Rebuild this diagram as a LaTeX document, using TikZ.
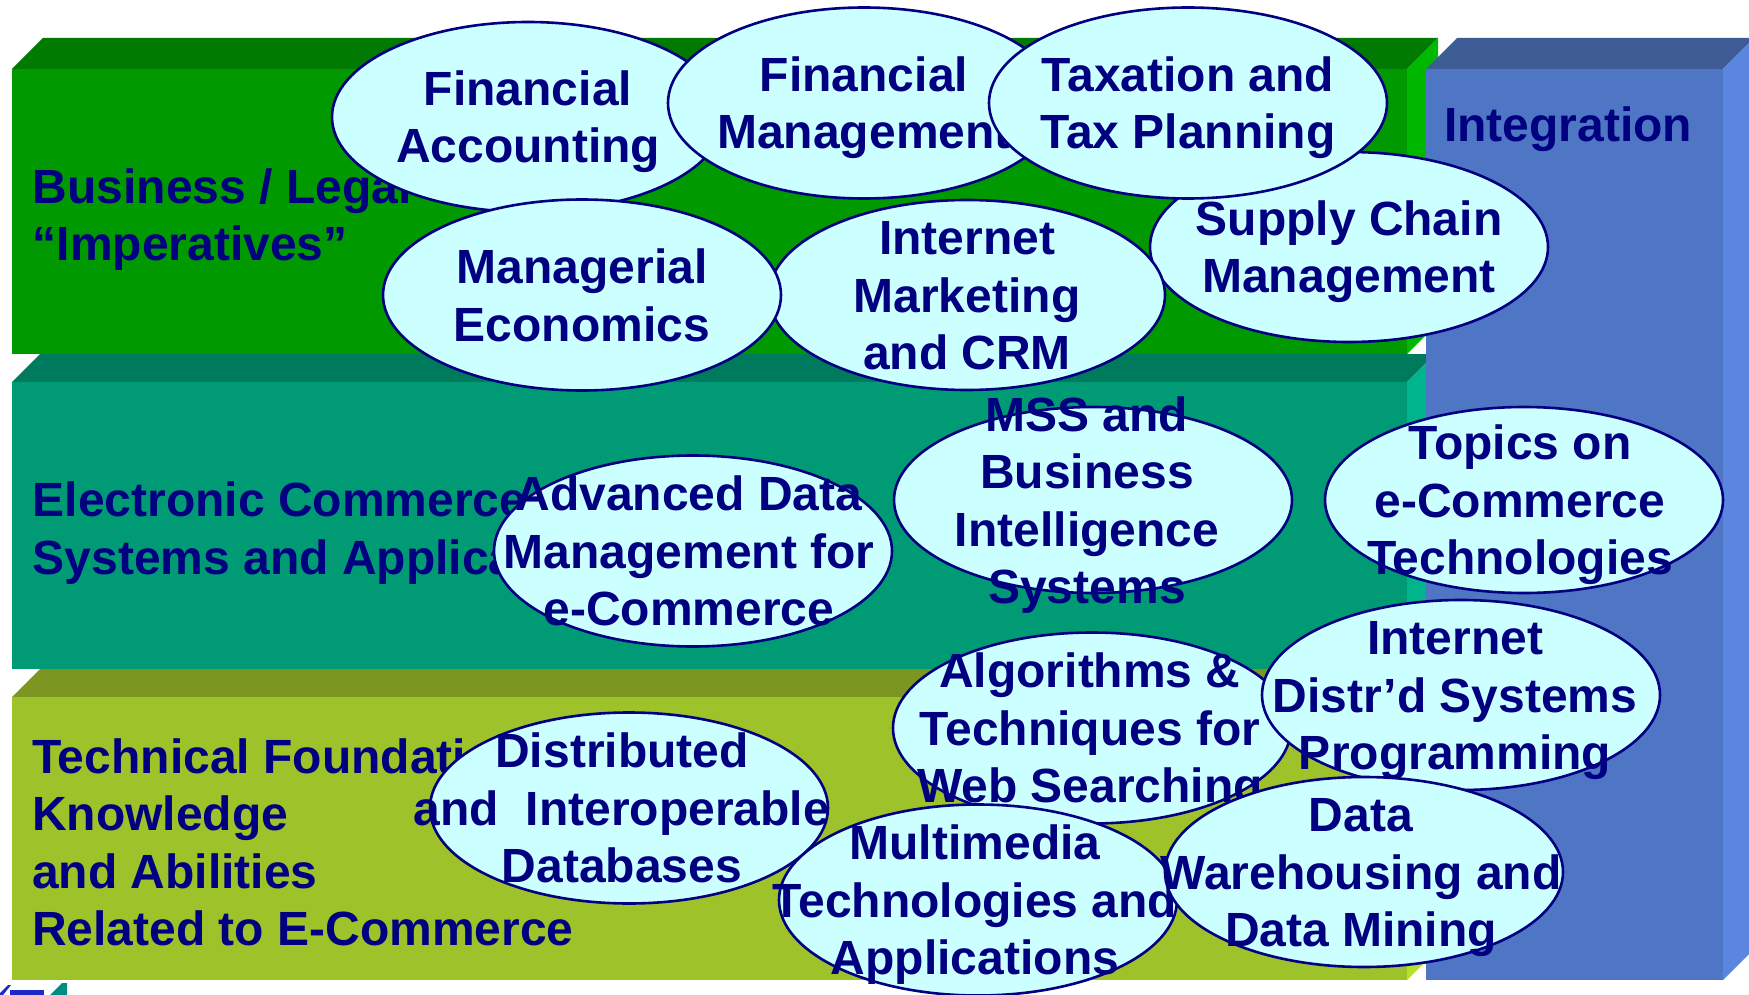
\documentclass[tikz,border=0pt]{standalone}
\usepackage{fontspec}
\setmainfont{Liberation Sans}
\usetikzlibrary{shapes.geometric,calc}
\definecolor{navytxt}{RGB}{0,0,128}
\definecolor{gfront}{RGB}{0,153,0}
\definecolor{gtop}{RGB}{0,122,0}
\definecolor{gside}{RGB}{0,184,0}
\definecolor{tfront}{RGB}{0,155,117}
\definecolor{ttop}{RGB}{0,122,92}
\definecolor{tside}{RGB}{0,181,140}
\definecolor{ofront}{RGB}{157,194,42}
\definecolor{otop}{RGB}{124,150,34}
\definecolor{oside}{RGB}{180,225,48}
\definecolor{bfront}{RGB}{79,118,196}
\definecolor{btop}{RGB}{62,92,148}
\definecolor{bside}{RGB}{91,134,224}
\definecolor{bubblefill}{RGB}{204,255,255}
\definecolor{logoblue}{RGB}{30,40,200}
\definecolor{logoteal}{RGB}{0,140,130}
\begin{document}
\begin{tikzpicture}[x=1pt,y=-1pt,
  bubble/.style={ellipse, draw=navytxt, line width=2.6pt, fill=bubblefill,
    minimum width=398pt, minimum height=191pt, inner sep=0pt},
  bigfont/.style={font=\fontsize{48}{57.5}\selectfont\bfseries, text=navytxt, inner sep=0pt},
  btxt/.style={bigfont, align=center, anchor=base},
  lbl/.style={bigfont, align=left, anchor=base west}]
\useasboundingbox (0,0) rectangle (1749,995);
\fill[white] (0,0) rectangle (1749,995);
% green bar
\fill[gtop] (12,69) -- (43,38) -- (1438,38) -- (1407,69) -- cycle;
\fill[gside] (1407,69) -- (1438,38) -- (1438,323) -- (1407,354) -- cycle;
\fill[gfront] (12,69) rectangle (1407,354);
% teal bar
\fill[ttop] (12,382) -- (40,354) -- (1435,354) -- (1407,382) -- cycle;
\fill[tside] (1407,382) -- (1435,354) -- (1435,641) -- (1407,669) -- cycle;
\fill[tfront] (12,382) rectangle (1407,669);
% olive bar
\fill[otop] (12,697) -- (40,669) -- (1435,669) -- (1407,697) -- cycle;
\fill[oside] (1407,697) -- (1435,669) -- (1435,952) -- (1407,980) -- cycle;
\fill[ofront] (12,697) rectangle (1407,980);
% integration bar
\fill[btop] (1426,69) -- (1457,38) -- (1754,38) -- (1723,69) -- cycle;
\fill[bside] (1723,69) -- (1754,38) -- (1754,949) -- (1723,980) -- cycle;
\fill[bfront] (1426,69) rectangle (1723,980);
% cut-off logo
\fill[logoblue] (0,993) -- (8,985) -- (11,985) -- (3,995) -- (0,995) -- cycle;
\fill[logoblue] (10,990) rectangle (44,995);
\fill[logoteal] (50,995) -- (62,983) -- (67,983) -- (67,995) -- cycle;
% layer labels (anchor = baseline of last line)
\node[lbl] (lbus) at (32.5,261) {Business / Legal\\“Imperatives”};
\node[lbl] (lec) at (32.5,574) {Electronic Commerce\\Systems and Applications};
\node[lbl] (ltech) at (32,945.5) {Technical Foundations\\Knowledge\\and Abilities\\Related to E-Commerce};
\node[lbl] (lint) at (1444,142) {Integration};
% bubbles
\node[bubble, minimum width=392pt, minimum height=190pt] (fa) at (528,117) {};
\node[btxt] (fa-t) at ($(fa)+(0,46)$) {Financial\\Accounting};
\node[bubble, minimum height=190pt] (scm) at (1349,247) {};
\node[btxt] (scm-t) at ($(scm)+(0,46)$) {Supply Chain\\Management};
\node[bubble, minimum width=392pt] (fm) at (864,103) {};
\node[btxt] (fm-t) at ($(fm)+(0,46)$) {Financial\\Management};
\node[bubble] (tax) at (1188,103) {};
\node[btxt] (tax-t) at ($(tax)+(0,46)$) {Taxation and\\Tax Planning};
\node[bubble, minimum width=396pt, minimum height=190pt] (im) at (967,295) {};
\node[btxt] (im-t) at ($(im)+(0,74.7)$) {Internet\\Marketing\\and CRM};
\node[bubble] (me) at (582,295) {};
\node[btxt] (me-t) at ($(me)+(0,46)$) {Managerial\\Economics};
\node[bubble] (ad) at (693,551) {};
\node[btxt] (ad-t) at ($(ad)+(-4,74.7)$) {Advanced Data\\Management for\\e-Commerce};
\node[bubble, minimum height=186pt] (mss) at (1093,500) {};
\node[btxt] (mss-t) at ($(mss)+(-6,103.5)$) {MSS and\\Business\\Intelligence\\Systems};
\node[bubble, minimum height=186pt] (topics) at (1524,500) {};
\node[btxt] (topics-t) at ($(topics)+(-4,74.7)$) {Topics on\\e-Commerce\\Technologies};
\node[bubble] (did) at (629,808) {};
\node[btxt] (did-t) at ($(did)+(-7,74.7)$) {Distributed\\and~~Interoperable\\Databases};
\node[bubble] (alg) at (1092,728) {};
\node[btxt] (alg-t) at ($(alg)+(-2,74.7)$) {Algorithms \&\\Techniques for\\Web Searching};
\node[bubble] (mm) at (978,900) {};
\node[btxt] (mm-t) at ($(mm)+(-3,74.7)$) {Multimedia\\Technologies and\\Applications};
\node[bubble, minimum height=190pt] (ids) at (1461,695) {};
\node[btxt] (ids-t) at ($(ids)+(-6,74.7)$) {Internet\\Distr’d Systems\\Programming};
\node[bubble, minimum height=190pt] (dw) at (1364,872) {};
\node[btxt] (dw-t) at ($(dw)+(-3,74.7)$) {Data\\Warehousing and\\Data Mining};
\end{tikzpicture}
\end{document}
